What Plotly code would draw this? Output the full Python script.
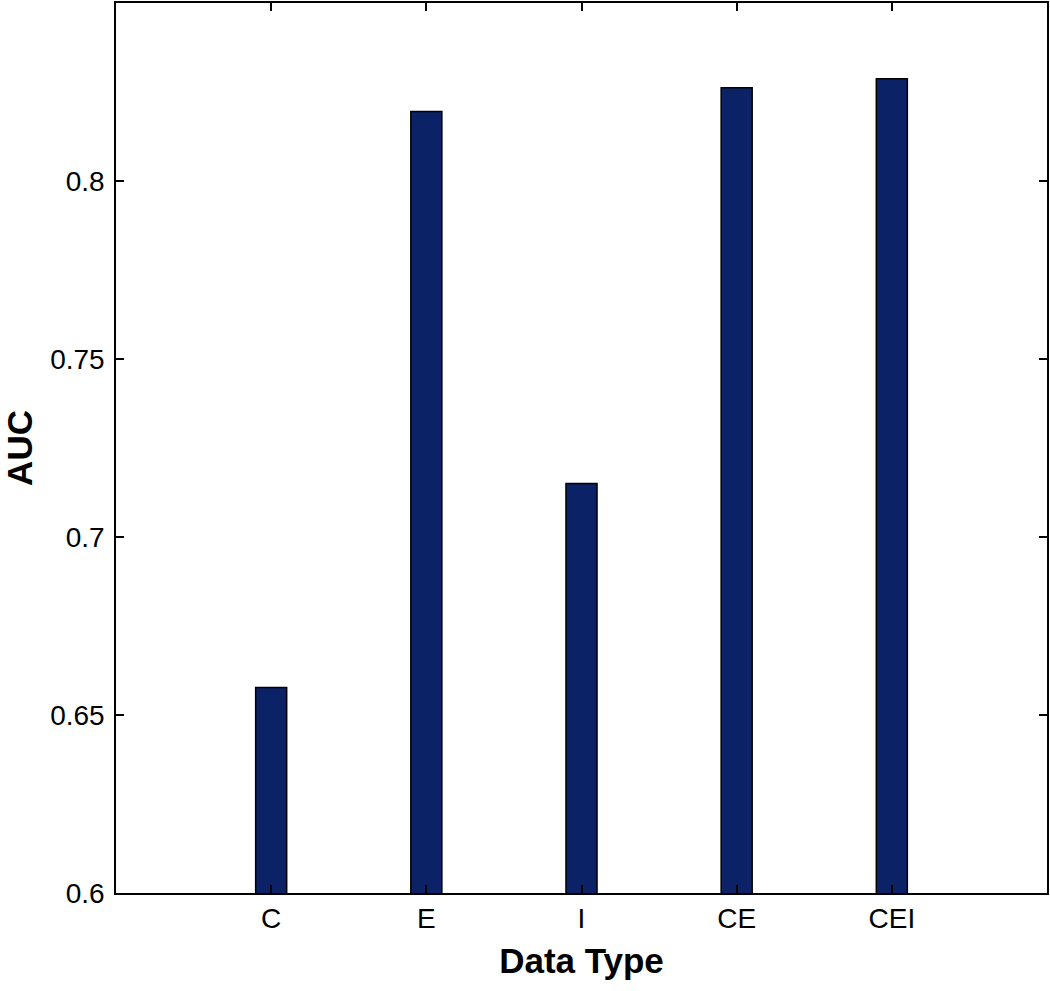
import plotly.graph_objects as go

categories = ["C", "E", "I", "CE", "CEI"]
auc_values = [0.6577, 0.8195, 0.7150, 0.8262, 0.8287]
y_ticks = [0.6, 0.65, 0.7, 0.75, 0.8]
y_tick_labels = ["0.6", "0.65", "0.7", "0.75", "0.8"]

x_pos = list(range(1, len(categories) + 1))

fig = go.Figure()
fig.add_trace(go.Bar(
    x=x_pos,
    y=auc_values,
    base=0,
    width=0.2,
    marker=dict(color="#0c2266", line=dict(color="black", width=1.5)),
))

axis_common = dict(
    showline=True, linecolor="black", linewidth=1.5, mirror="ticks",
    ticks="inside", ticklen=8, tickwidth=1.5, tickcolor="black",
    showgrid=False, zeroline=False,
    tickfont=dict(family="Liberation Sans, Arial, sans-serif", size=28, color="black"),
)

fig.update_layout(
    width=1050, height=991,
    margin=dict(l=116, r=2, t=1, b=98),
    plot_bgcolor="white", paper_bgcolor="white",
    showlegend=False,
    xaxis=dict(
        range=[0, 6], tickvals=x_pos, ticktext=categories,
        title=dict(text="<b>Data Type</b>",
                   font=dict(family="Liberation Sans, Arial, sans-serif", size=35, color="black")),
        ticklabelstandoff=0,
        **axis_common,
    ),
    yaxis=dict(
        range=[0.6, 0.85], tickvals=y_ticks, ticktext=y_tick_labels,
        title=dict(text="<b>AUC</b>",
                   font=dict(family="Liberation Sans, Arial, sans-serif", size=35, color="black")),
        ticklabelstandoff=4,
        **axis_common,
    ),
)

fig.write_html(
    "out.html",
    config={"displayModeBar": False},
    post_script="document.body.style.margin='0';document.body.style.overflow='hidden';",
)
